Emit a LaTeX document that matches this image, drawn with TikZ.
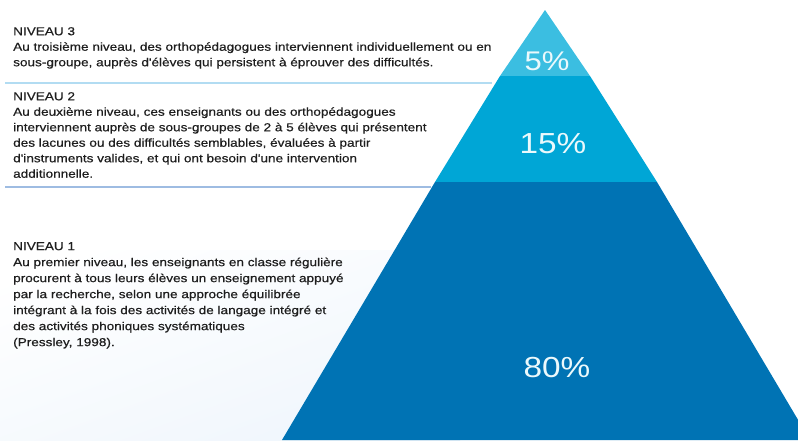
\documentclass[tikz,border=0pt]{standalone}
\usepackage{fontspec}
\setmainfont{Liberation Sans}
\newfontfamily\nivfont[FakeStretch=1.18,FakeBold=0.5]{Liberation Sans}
\newfontfamily\pctfont[FakeStretch=1.15]{Liberation Sans}
\usetikzlibrary{positioning}
\definecolor{tierA}{RGB}{59,190,225}
\definecolor{tierB}{RGB}{0,166,214}
\definecolor{tierC}{RGB}{0,115,180}
\definecolor{ruleA}{RGB}{178,220,242}
\definecolor{ruleB}{RGB}{158,188,226}
\definecolor{bgtint}{RGB}{238,245,252}
\definecolor{txt}{RGB}{30,30,30}
\tikzset{
  niveau/.style={anchor=north west, inner sep=0pt, align=left, text=txt,
    font=\nivfont\fontsize{11.5}{15.5}\selectfont},
  pct/.style={inner sep=0pt, text=white!90!tierA},
  sep/.style={line width=2.2pt}
}

\begin{document}
\begin{tikzpicture}[x=1pt,y=-1pt]
\useasboundingbox (0,0) rectangle (798,440);
\clip (0,0) rectangle (798,440);
\shade[top color=white, bottom color=bgtint, shading angle=20] (-40,250) rectangle (460,470);

% pyramid
\fill[tierA] (545,10) -- (590,76) -- (500,76) -- cycle;
\fill[tierB] (500,76) -- (590,76) -- (657,182) -- (435,182) -- cycle;
\fill[tierC] (435,182) -- (657,182) -- (810,440) -- (282,440) -- cycle;
\node[pct, font=\pctfont\fontsize{27}{27}\selectfont] (p5) at (547,61) {5\%};
\node[pct, font=\pctfont\fontsize{29}{29}\selectfont] (p15) at (553,144) {15\%};
\node[pct, font=\pctfont\fontsize{29}{29}\selectfont] (p80) at (557,368) {80\%};

% texts
\node[niveau] (niv3) at (13,27) {NIVEAU 3\\
Au troisième niveau, des orthopédagogues interviennent individuellement ou en\\
sous-groupe, auprès d'élèves qui persistent à éprouver des difficultés.};
\coordinate (r3a) at (5,83);
\coordinate (r3b) at (492,83);
\draw[sep, ruleA] (r3a) -- (r3b);

\node[niveau] (niv2) at (13,92) {NIVEAU 2\\
Au deuxième niveau, ces enseignants ou des orthopédagogues\\
interviennent auprès de sous-groupes de 2 à 5 élèves qui présentent\\
des lacunes ou des difficultés semblables, évaluées à partir\\
d'instruments valides, et qui ont besoin d'une intervention\\
additionnelle.};
\coordinate (r2a) at (5,187);
\coordinate (r2b) at (431,187);
\draw[sep, ruleB, line width=1.8pt] (r2a) -- (r2b);

\node[niveau, font=\nivfont\fontsize{11.5}{16}\selectfont] (niv1) at (13,242) {NIVEAU 1\\
Au premier niveau, les enseignants en classe régulière\\
procurent à tous leurs élèves un enseignement appuyé\\
par la recherche, selon une approche équilibrée\\
intégrant à la fois des activités de langage intégré et\\
des activités phoniques systématiques\\
(Pressley, 1998).};
\end{tikzpicture}
\end{document}
